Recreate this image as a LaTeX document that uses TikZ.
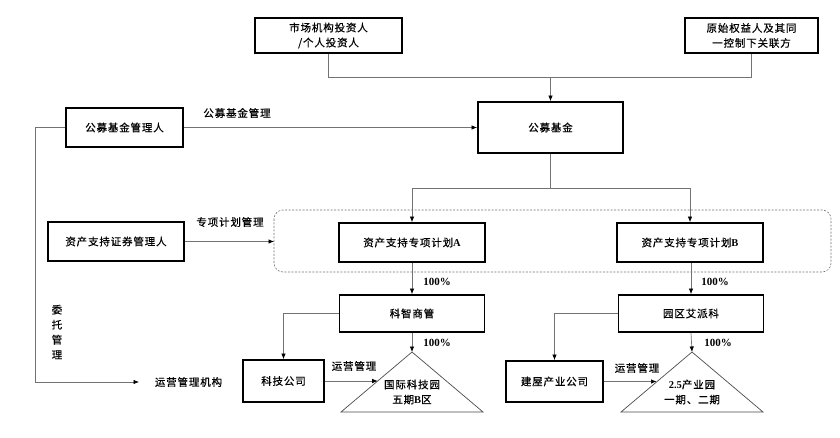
\documentclass[tikz,border=0pt]{standalone}
\usepackage{fontspec}
\newfontfamily\cjk[LetterSpace=8,FakeBold=0.5]{Noto Sans CJK SC}
\newfontfamily\lat{Liberation Serif}
\usetikzlibrary{arrows.meta,calc}
\begin{document}
\begin{tikzpicture}[x=1pt,y=-1pt,
  box/.style={draw,line width=1.8pt,inner sep=0pt,align=center,font=\cjk\fontsize{10.5}{15}\selectfont},
  conn/.style={draw=black!55,line width=0.7pt},
  arr/.style={conn,-{Latex[length=5.5pt,width=4.5pt,color=black]}},
  lbl/.style={inner sep=0pt,align=center,font=\cjk\fontsize{10.5}{15}\selectfont},
  pct/.style={inner sep=0pt,font=\lat\bfseries\fontsize{11}{13}\selectfont},
  tri/.style={draw=black!70,line width=0.7pt},
  grp/.style={draw=black!55,line width=0.6pt,dash pattern=on 2pt off 1.5pt,rounded corners=9pt}]
\useasboundingbox[fill=white] (0,0) rectangle (840,438);

% boxes
\node[box,minimum width=147pt,minimum height=35pt] (inv) at (328.5,35.5) {市场机构投资人\\/个人投资人};
\node[box,minimum width=133pt,minimum height=35pt] (orig) at (751.5,35.5) {原始权益人及其同\\一控制下关联方};
\node[box,minimum width=145pt,minimum height=51pt] (fund) at (550.5,127.5) {公募基金};
\node[box,minimum width=117pt,minimum height=39pt] (fmgr) at (124.5,127.5) {公募基金管理人};
\node[box,minimum width=136pt,minimum height=39pt] (amgr) at (116,241.5) {资产支持证券管理人};
\draw[grp] (274,210) rectangle (831,272);
\coordinate (grpw) at (274,241.5);
\node[box,minimum width=146pt,minimum height=39pt] (pa) at (412,242.5) {资产支持专项计划{\lat\bfseries A}};
\node[box,minimum width=146pt,minimum height=39pt] (pb) at (690,242.5) {资产支持专项计划{\lat\bfseries B}};
\node[box,minimum width=145pt,minimum height=37pt] (kz) at (412,313.5) {科智商管};
\node[box,minimum width=145pt,minimum height=37pt] (yq) at (691,313.5) {园区艾派科};
\node[box,minimum width=81pt,minimum height=42pt] (kj) at (283.5,381) {科技公司};
\node[box,minimum width=97pt,minimum height=41pt] (jw) at (554.5,381.5) {建屋产业公司};

% triangles
\coordinate (t1a) at (412,352); \coordinate (t1l) at (341,412); \coordinate (t1r) at (483,412);
\draw[tri] (t1a) -- (t1l) -- (t1r) -- cycle;
\node[lbl] (t1t) at (412,392) {国际科技园\\五期{\lat\bfseries B}区};
\coordinate (t2a) at (692,352); \coordinate (t2l) at (621,412); \coordinate (t2r) at (763,412);
\draw[tri] (t2a) -- (t2l) -- (t2r) -- cycle;
\node[lbl] (t2t) at (692,392) {{\lat\bfseries 2.5}产业园\\一期、二期};
\coordinate (t1e) at ($(t1a)!0.483!(t1l)$);
\coordinate (t2e) at ($(t2a)!0.5!(t2l)$);

% top connectors
\coordinate (j1) at (550.5,77);
\draw[conn] (inv.south) |- (j1);
\draw[conn] (orig.south) |- (j1);
\draw[arr] (j1) -- (fund.north);

\coordinate (j2) at (550.5,188);
\draw[conn] (fund.south) -- (j2);
\draw[arr] (j2) -| (pa.north);
\draw[arr] (j2) -| (pb.north);

% management
\draw[arr] (fmgr.east) -- (fund.west);
\node[lbl] (l1) at (237,113) {公募基金管理};
\draw[arr] (amgr.east) -- (grpw);
\node[lbl] (l2) at (230,222) {专项计划管理};

\coordinate (lc) at (35,127.5);
\node[lbl] (opn) at (188.5,382) {运营管理机构};
\coordinate (opt) at (139,382);
\draw[arr] (fmgr.west) -- (lc) |- (opt);
\node[lbl] (wt) at (57,332) {委\\托\\管\\理};

% ownership
\draw[arr] (pa.south) -- (kz.north);
\node[pct] (p1) at (437,282) {100\%};
\draw[arr] (kz.south) -- (t1a);
\node[pct] (p2) at (437,343) {100\%};
\draw[arr] (pb.south -| yq.north) -- (yq.north);
\node[pct] (p3) at (715,282) {100\%};
\draw[arr] (yq.south) -- (t2a);
\node[pct] (p4) at (718,343) {100\%};

\draw[arr] ([yshift=0.5pt]kz.west) -| (kj.north);
\draw[arr] ([yshift=0.5pt]yq.west) -| (jw.north);

\draw[arr] (kj.east) -- (kj.east -| t1e);
\node[lbl] (l3) at (354,366) {运营管理};
\draw[arr] (jw.east) -- (jw.east -| t2e);
\node[lbl] (l4) at (637,368) {运营管理};
\end{tikzpicture}
\end{document}
